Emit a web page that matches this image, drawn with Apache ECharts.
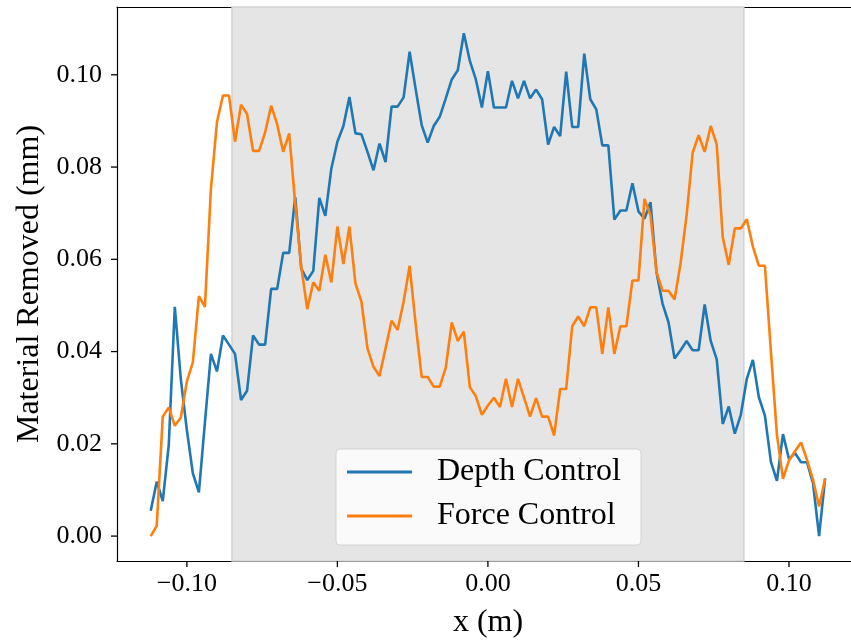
<!DOCTYPE html>
<html lang="en">

<head>
  <meta charset="UTF-8">
  <title>Material Removed</title>
  <script src="https://cdn.jsdelivr.net/npm/echarts@6/dist/echarts.min.js"></script>
  <style>
    html, body { margin: 0; padding: 0; background: #fff; }
    #main { width: 851px; height: 644px; }
  </style>
</head>

<body>
  <div id="main"></div>
  <script>
    // positions along the surface (m)
    var xs = [
      -0.112, -0.110, -0.108, -0.106, -0.104, -0.102, -0.100, -0.098, -0.096, -0.094,
      -0.092, -0.090, -0.088, -0.086, -0.084, -0.082, -0.080, -0.078, -0.076, -0.074,
      -0.072, -0.070, -0.068, -0.066, -0.064, -0.062, -0.060, -0.058, -0.056, -0.054,
      -0.052, -0.050, -0.048, -0.046, -0.044, -0.042, -0.040, -0.038, -0.036, -0.034,
      -0.032, -0.030, -0.028, -0.026, -0.024, -0.022, -0.020, -0.018, -0.016, -0.014,
      -0.012, -0.010, -0.008, -0.006, -0.004, -0.002, 0.000, 0.002, 0.004, 0.006,
      0.008, 0.010, 0.012, 0.014, 0.016, 0.018, 0.020, 0.022, 0.024, 0.026,
      0.028, 0.030, 0.032, 0.034, 0.036, 0.038, 0.040, 0.042, 0.044, 0.046,
      0.048, 0.050, 0.052, 0.054, 0.056, 0.058, 0.060, 0.062, 0.064, 0.066,
      0.068, 0.070, 0.072, 0.074, 0.076, 0.078, 0.080, 0.082, 0.084, 0.086,
      0.088, 0.090, 0.092, 0.094, 0.096, 0.098, 0.100, 0.102, 0.104, 0.106,
      0.108, 0.110, 0.112
    ]

    // material removed (mm)
    var depthControl = [
      0.0055, 0.0118, 0.0076, 0.0198, 0.0497, 0.0340, 0.0230, 0.0136, 0.0095, 0.0246,
      0.0395, 0.0357, 0.0435, 0.0415, 0.0395, 0.0295, 0.0315, 0.0435, 0.0415, 0.0415,
      0.0536, 0.0536, 0.0614, 0.0614, 0.0735, 0.0580, 0.0555, 0.0575, 0.0733, 0.0694,
      0.0797, 0.0855, 0.0889, 0.0952, 0.0873, 0.0871, 0.0833, 0.0793, 0.0851, 0.0811,
      0.0931, 0.0931, 0.0951, 0.1050, 0.0969, 0.0891, 0.0853, 0.0889, 0.0909, 0.0949,
      0.0990, 0.1010, 0.1090, 0.1030, 0.0990, 0.0929, 0.1008, 0.0929, 0.0929, 0.0929,
      0.0987, 0.0949, 0.0987, 0.0949, 0.0968, 0.0947, 0.0849, 0.0887, 0.0867, 0.1007,
      0.0887, 0.0887, 0.1046, 0.0947, 0.0925, 0.0847, 0.0847, 0.0686, 0.0706, 0.0706,
      0.0765, 0.0704, 0.0688, 0.0724, 0.0572, 0.0504, 0.0463, 0.0385, 0.0403, 0.0423,
      0.0403, 0.0403, 0.0502, 0.0423, 0.0383, 0.0243, 0.0281, 0.0222, 0.0263, 0.0341,
      0.0382, 0.0301, 0.0261, 0.0161, 0.0120, 0.0221, 0.0167, 0.0180, 0.0160, 0.0160,
      0.0114, 0.0000, 0.0125
    ]

    var forceControl = [
      0.0000, 0.0022, 0.0259, 0.0279, 0.0239, 0.0257, 0.0335, 0.0377, 0.0520, 0.0497,
      0.0753, 0.0897, 0.0955, 0.0955, 0.0855, 0.0935, 0.0915, 0.0835, 0.0835, 0.0875,
      0.0933, 0.0893, 0.0833, 0.0873, 0.0720, 0.0584, 0.0492, 0.0550, 0.0532, 0.0610,
      0.0550, 0.0671, 0.0590, 0.0671, 0.0548, 0.0508, 0.0407, 0.0367, 0.0347, 0.0407,
      0.0467, 0.0447, 0.0508, 0.0586, 0.0460, 0.0345, 0.0345, 0.0324, 0.0324, 0.0365,
      0.0463, 0.0423, 0.0443, 0.0323, 0.0303, 0.0263, 0.0283, 0.0300, 0.0280, 0.0341,
      0.0280, 0.0341, 0.0300, 0.0259, 0.0299, 0.0259, 0.0259, 0.0218, 0.0319, 0.0319,
      0.0455, 0.0476, 0.0455, 0.0496, 0.0496, 0.0395, 0.0496, 0.0395, 0.0455, 0.0455,
      0.0554, 0.0554, 0.0731, 0.0696, 0.0572, 0.0532, 0.0532, 0.0513, 0.0592, 0.0696,
      0.0831, 0.0869, 0.0833, 0.0889, 0.0849, 0.0648, 0.0588, 0.0667, 0.0667, 0.0687,
      0.0628, 0.0586, 0.0586, 0.0400, 0.0220, 0.0124, 0.0164, 0.0184, 0.0203, 0.0165,
      0.0122, 0.0064, 0.0124
    ]

    var xTicks = [-0.10, -0.05, 0.00, 0.05, 0.10]
    var yTicks = [0.00, 0.02, 0.04, 0.06, 0.08, 0.10]
    var shadedRange = [-0.085, 0.085]

    var xMin = -0.1232, xMax = 0.1206
    var yMin = -0.0054, yMax = 0.1147

    var font = "'Liberation Serif', 'DejaVu Serif', serif"
    var TICK = 6

    function spine() {
      return { show: true, onZero: false, lineStyle: { color: '#000', width: 1.2 } }
    }

    function pairs(ys) {
      return xs.map(function (x, i) { return [x, ys[i]] })
    }

    function fmt(v) {
      return v < 0 ? '\u2212' + (-v).toFixed(2) : v.toFixed(2)
    }

    // outward tick marks, placed through the axes' own scales
    function tickSeries(data, vertical) {
      return {
        type: 'custom',
        silent: true,
        clip: false,
        z: 5,
        data: data,
        renderItem: function (params, api) {
          var p = api.coord([api.value(0), api.value(1)])
          var shape = vertical
            ? { x1: p[0], y1: p[1], x2: p[0], y2: p[1] + TICK }
            : { x1: p[0] - TICK, y1: p[1], x2: p[0], y2: p[1] }
          return { type: 'line', shape: shape, style: { stroke: '#000', lineWidth: 1.3 } }
        }
      }
    }

    var myChart = echarts.init(document.getElementById('main'))
    var option = {
      animation: false,
      backgroundColor: '#fff',
      grid: {
        left: 117,
        right: 0,
        top: 7,
        bottom: 83
      },
      legend: {
        orient: 'vertical',
        left: 336,
        top: 449,
        padding: [5, 20, 11, 11],
        itemGap: 8,
        itemWidth: 65,
        itemHeight: 3,
        icon: 'rect',
        backgroundColor: 'rgba(255,255,255,0.8)',
        borderColor: 'rgba(204,204,204,0.8)',
        borderWidth: 1,
        borderRadius: 4,
        textStyle: {
          fontFamily: font,
          fontSize: 32,
          color: '#000',
          lineHeight: 36,
          padding: [0, 0, 0, 20]
        },
        data: ['Depth Control', 'Force Control']
      },
      xAxis: [
        {
          type: 'value',
          position: 'bottom',
          min: xMin,
          max: xMax,
          name: 'x (m)',
          nameLocation: 'middle',
          nameGap: 46,
          nameTextStyle: { fontFamily: font, fontSize: 32, color: '#000', padding: [0, 0, 0, 8] },
          axisLine: spine(),
          axisTick: { show: false },
          axisLabel: {
            customValues: xTicks,
            margin: 10,
            fontFamily: font,
            fontSize: 26,
            color: '#000',
            formatter: fmt
          },
          splitLine: { show: false }
        },
        {
          // top spine only
          type: 'value',
          position: 'top',
          min: xMin,
          max: xMax,
          axisLine: spine(),
          axisTick: { show: false },
          axisLabel: { show: false },
          splitLine: { show: false }
        }
      ],
      yAxis: {
        type: 'value',
        position: 'left',
        min: yMin,
        max: yMax,
        name: 'Material Removed (mm)',
        nameLocation: 'middle',
        nameGap: 68,
        nameTextStyle: { fontFamily: font, fontSize: 32, color: '#000' },
        axisLine: spine(),
        axisTick: { show: false },
        axisLabel: {
          customValues: yTicks,
          margin: 15,
          fontFamily: font,
          fontSize: 26,
          color: '#000',
          formatter: fmt
        },
        splitLine: { show: false }
      },
      series: [
        {
          name: 'Depth Control',
          type: 'line',
          data: pairs(depthControl),
          showSymbol: false,
          symbol: 'none',
          z: 3,
          color: '#1f77b4',
          lineStyle: { color: '#1f77b4', width: 2.6 },
          markArea: {
            silent: true,
            z: 1,
            itemStyle: {
              color: '#e5e5e5',
              borderColor: '#d2d2d2',
              borderWidth: 1.5
            },
            data: [[{ xAxis: shadedRange[0] }, { xAxis: shadedRange[1] }]]
          }
        },
        {
          name: 'Force Control',
          type: 'line',
          data: pairs(forceControl),
          showSymbol: false,
          symbol: 'none',
          z: 3,
          color: '#ff7f0e',
          lineStyle: { color: '#ff7f0e', width: 2.6 }
        },
        tickSeries(xTicks.map(function (v) { return [v, yMin] }), true),
        tickSeries(yTicks.map(function (v) { return [xMin, v] }), false)
      ]
    }
    myChart.setOption(option)
  </script>
</body>

</html>
